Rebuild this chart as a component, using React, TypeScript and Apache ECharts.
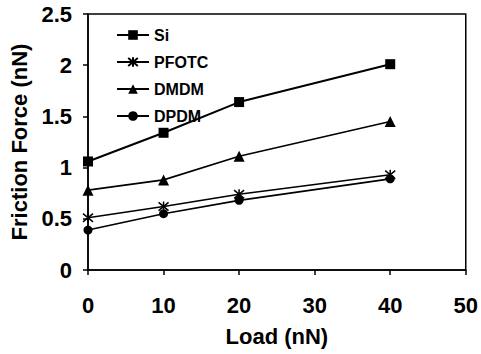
import React, { useEffect, useRef } from "react";
import * as echarts from "echarts";

const loads = [0, 10, 20, 40];
const seriesNames = ["Si", "PFOTC", "DMDM", "DPDM"];
const si = [1.06, 1.34, 1.64, 2.01];
const pfotc = [0.51, 0.62, 0.74, 0.93];
const dmdm = [0.78, 0.88, 1.11, 1.45];
const dpdm = [0.39, 0.55, 0.68, 0.89];
const xTicks = [0, 10, 20, 30, 40, 50];
const yTicks = [0, 0.5, 1, 1.5, 2, 2.5];

const FONT = "'Liberation Sans', Arial, sans-serif";
const ASTERISK = "path://M0,0L10,10M10,0L0,10M5,-1L5,11";

export default function App() {
  const ref = useRef<HTMLDivElement>(null);
  useEffect(() => {
    if (!ref.current) return;
    const chart = echarts.init(ref.current, undefined, { renderer: "svg" });
    const values = [si, pfotc, dmdm, dpdm];
    const symbols = ["rect", ASTERISK, "triangle", "circle"];
    const sizes = [10, 10, 11, 9];
    chart.setOption({
      animation: false,
      backgroundColor: "#fff",
      grid: {
        left: 88,
        right: 14,
        top: 14,
        bottom: 84,
        show: true,
        borderColor: "#000",
        borderWidth: 1.5,
        backgroundColor: "transparent",
      },
      legend: {
        orient: "vertical",
        left: 111,
        top: 22,
        itemWidth: 32,
        itemHeight: 12,
        itemGap: 11,
        data: seriesNames,
        textStyle: { fontFamily: FONT, fontWeight: "bold", fontSize: 16, color: "#000" },
      },
      xAxis: {
        type: "value",
        min: xTicks[0],
        max: xTicks[xTicks.length - 1],
        interval: 10,
        name: "Load (nN)",
        nameLocation: "middle",
        nameGap: 55,
        nameTextStyle: { fontFamily: FONT, fontWeight: "bold", fontSize: 22, color: "#000" },
        axisLine: { lineStyle: { color: "#000", width: 1.5 } },
        axisTick: { show: true, length: 5, lineStyle: { color: "#000", width: 1.5 } },
        axisLabel: { fontFamily: FONT, fontWeight: "bold", fontSize: 22, color: "#000", margin: 24 },
        splitLine: { show: false },
      },
      yAxis: {
        type: "value",
        min: yTicks[0],
        max: yTicks[yTicks.length - 1],
        interval: 0.5,
        name: "Friction Force (nN)",
        nameLocation: "middle",
        nameGap: 57,
        nameTextStyle: { fontFamily: FONT, fontWeight: "bold", fontSize: 22, color: "#000" },
        axisLine: { lineStyle: { color: "#000", width: 1.5 } },
        axisTick: { show: true, length: 5, lineStyle: { color: "#000", width: 1.5 } },
        axisLabel: { fontFamily: FONT, fontWeight: "bold", fontSize: 22, color: "#000", margin: 16 },
        splitLine: { show: false },
      },
      series: seriesNames.map((name, i) => ({
        name,
        type: "line",
        data: loads.map((x, j) => [x, values[i][j]]),
        symbol: symbols[i],
        symbolSize: sizes[i],
        lineStyle: { color: "#000", width: i === 0 ? 2 : 1.6 },
        itemStyle: {
          color: "#000",
          borderColor: "#000",
          borderWidth: i === 1 ? 1.5 : 0,
        },
      })),
    });
    return () => chart.dispose();
  }, []);
  return <div ref={ref} style={{ width: 481, height: 354, position: "absolute", left: 0, top: 0 }} />;
}
